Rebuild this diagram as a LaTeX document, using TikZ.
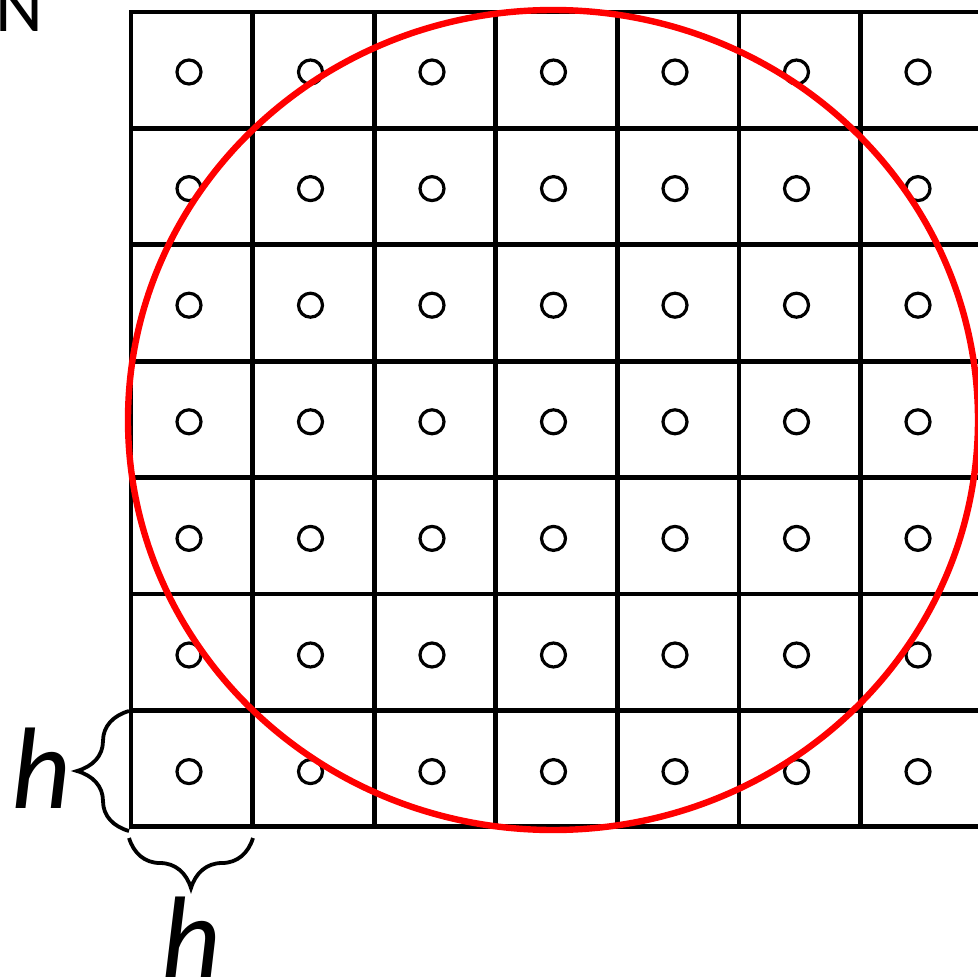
\documentclass[tikz,border=0pt]{standalone}
\usepackage{fontspec}
\setmainfont{Carlito}
\usetikzlibrary{decorations.pathreplacing}
\usepackage{xcolor}
\definecolor{RimRed}{HTML}{FF0000}

\tikzset{
  gridline/.style={line width=2.4pt},
  centremark/.style={line width=1.6pt},
  sizebrace/.style={decorate,decoration={brace,amplitude=#1},line width=1.9pt},
  sizelabel/.style={font=\fontsize{58}{58}\selectfont\itshape,inner sep=0pt,anchor=base}
}

\begin{document}
\begin{tikzpicture}[x=0.5pt,y=-0.5pt]
    \useasboundingbox (0,0) rectangle (978,979);
    % cells
    \foreach \c in {0,...,7}
      \draw[gridline] ({131+121.6*\c},12) -- ({131+121.6*\c},827);
    \foreach \r in {0,...,7}
      \draw[gridline] (129,{12+116.4*\r}) -- (1000,{12+116.4*\r});
    % cell centres
    \foreach \c in {0,...,6}
      \foreach \r in {0,...,6}
        \draw[centremark] ({189+121.5*\c},{72+116.6*\r}) circle (6pt);
    % domain boundary
    \draw[RimRed,line width=3.2pt] (553,420) ellipse [x radius=425, y radius=410];
    % cell size
    \coordinate (cellbl) at (129,831);
    \coordinate (celltl) at (129,711);
    \coordinate (cellbr) at (253,838);
    \draw[sizebrace=26pt] (cellbl) -- (celltl);
    \draw[sizebrace=25pt] (cellbr) -- (cellbl |- cellbr);
    \node[sizelabel] (hside) at (41,808) {h};
    \node[sizelabel] (hbase) at (191,977) {h};
    \node[font=\fontsize{37}{37}\selectfont,inner sep=0pt,anchor=base west] (capN) at (-5,32) {N};
  \end{tikzpicture}
\end{document}
